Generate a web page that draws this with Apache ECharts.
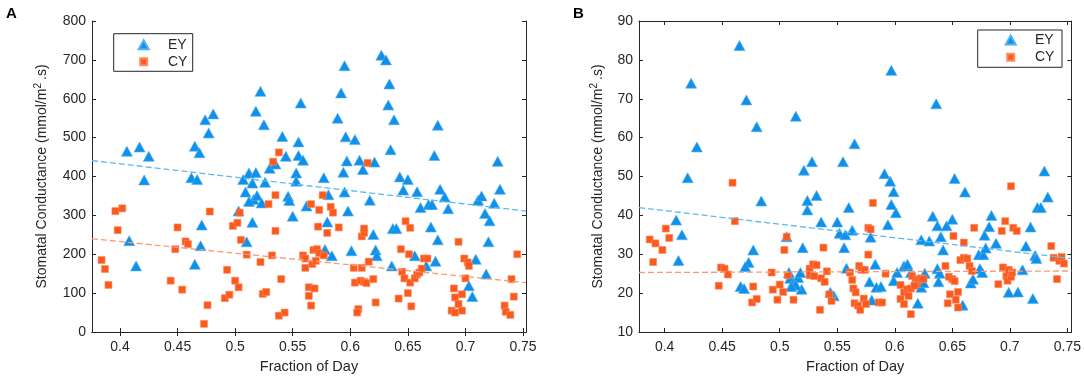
<!DOCTYPE html>
<html>
<head>
<meta charset="utf-8">
<title>Stomatal Conductance</title>
<script src="https://cdn.jsdelivr.net/npm/echarts@6/dist/echarts.min.js"></script>
<style>
	html, body { margin: 0; padding: 0; background: #fff; }
	#main { width: 1084px; height: 379px; }
</style>
</head>
<body>
<div id="main"></div>
<script>
// ---- data ----
var xTicks = [0.4, 0.45, 0.5, 0.55, 0.6, 0.65, 0.7, 0.75];

// panel A
var eyA_x = [0.406,0.417,0.425,0.421,0.408,0.414,0.465,0.469,0.462,0.467,0.474,0.477,0.481,0.471,0.470,0.465,
	0.503,0.507,0.509,0.510,0.515,0.512,0.515,0.518,0.516,0.512,0.519,0.518,0.522,0.525,0.526,0.530,0.535,0.523,
	0.541,0.544,0.546,0.547,0.550,0.555,0.557,0.555,0.559,0.553,0.553,0.562,0.577,0.580,0.581,0.578,0.584,
	0.589,0.592,0.595,0.596,0.604,0.597,0.594,0.595,0.598,0.601,0.608,0.611,0.617,0.621,0.620,0.622,0.623,
	0.627,0.631,0.634,0.633,0.638,0.635,0.636,0.643,0.646,0.650,0.637,0.640,0.658,0.661,0.668,0.671,0.656,
	0.666,0.670,0.676,0.673,0.678,0.682,0.685,0.676,0.674,0.709,0.703,0.706,0.711,0.714,0.717,0.720,0.718,
	0.721,0.725,0.728,0.730];
var eyA_y = [465,476,452,391,235,170,478,461,397,392,546,512,561,275,222,174,
	311,392,360,232,282,409,383,410,341,336,351,568,619,533,385,421,432,332,
	503,452,349,338,298,489,589,454,442,409,388,324,397,283,353,212,196,
	550,615,685,502,495,440,411,360,311,209,442,418,339,437,251,211,196,
	712,700,638,584,546,469,170,399,365,392,266,266,361,320,328,328,196,
	170,270,532,454,367,347,317,237,182,187,119,91,339,350,305,232,149,
	286,331,439,367];
var cyA_x = [0.384,0.387,0.390,0.396,0.402,0.398,0.444,0.448,0.450,0.454,0.457,0.459,0.473,0.476,0.478,
	0.491,0.495,0.493,0.500,0.503,0.498,0.502,0.504,0.505,0.510,0.522,0.524,0.527,0.529,0.532,0.533,0.535,
	0.535,0.538,0.538,0.543,0.540,0.559,0.561,0.561,0.566,0.564,0.564,0.569,0.566,0.568,0.571,0.567,0.570,
	0.573,0.577,0.576,0.573,0.572,0.580,0.583,0.585,0.590,0.603,0.604,0.607,0.606,0.609,0.610,0.612,0.614,
	0.610,0.612,0.612,0.615,0.616,0.620,0.622,0.642,0.644,0.645,0.647,0.648,0.650,0.651,0.652,0.652,0.653,
	0.656,0.658,0.660,0.662,0.664,0.667,0.690,0.688,0.691,0.691,0.694,0.697,0.697,0.694,0.699,0.700,0.702,
	0.703,0.740,0.742,0.745,0.734,0.735,0.739];
var cyA_y = [185,162,121,311,318,262,132,213,269,109,233,226,21,69,310,
	87,96,160,132,115,273,281,307,237,199,180,98,103,329,197,438,352,
	260,462,42,50,136,197,165,189,329,115,93,112,68,211,213,175,183,
	203,197,352,314,271,255,322,307,269,165,127,59,50,132,165,129,126,
	246,255,266,435,181,136,76,86,213,155,138,285,100,200,268,127,66,
	138,148,153,163,189,189,112,55,50,89,72,97,55,232,189,138,179,
	170,136,91,200,68,52,44];
// least-squares lines, value at the left and right axis limits
var fitA_x = [0.3757, 0.7526];
var fitA_ey = [441, 311];
var fitA_cy = [240, 127];

// panel B
var eyB_x = [0.465,0.423,0.420,0.428,0.410,0.415,0.412,0.471,0.480,0.484,0.477,0.473,0.470,0.466,0.469,
	0.514,0.521,0.528,0.524,0.524,0.532,0.536,0.520,0.506,0.508,0.509,0.512,0.516,0.518,0.519,0.514,0.510,
	0.550,0.555,0.552,0.557,0.563,0.556,0.560,0.565,0.558,0.547,0.544,0.591,0.596,0.597,0.599,0.597,0.601,
	0.594,0.579,0.583,0.578,0.584,0.588,0.580,0.599,0.602,0.608,0.611,0.614,0.620,0.623,0.625,0.626,0.623,
	0.630,0.636,0.633,0.637,0.640,0.642,0.645,0.650,0.652,0.661,0.637,0.639,0.638,0.659,0.666,0.668,0.673,
	0.677,0.674,0.676,0.678,0.679,0.682,0.684,0.688,0.699,0.707,0.711,0.714,0.718,0.720,0.722,0.723,0.724,
	0.727,0.730,0.733];
var eyB_y = [83.7,74.0,49.7,57.6,38.8,35.0,28.4,69.7,62.8,43.7,31.1,27.9,26.8,21.7,21.2,
	65.5,51.6,53.8,43.8,41.4,45.1,38.3,31.7,34.5,25.3,23.8,22.7,24.0,25.3,21.0,22.1,21.7,
	38.3,53.8,35.4,35.0,36.2,31.7,42.0,58.4,26.4,19.3,20.2,50.7,48.8,77.3,46.1,42.8,40.7,
	37.6,34.4,27.4,22.9,21.5,21.7,18.2,23.2,25.3,27.0,27.4,25.3,17.4,21.5,22.7,25.1,33.7,
	33.4,68.7,39.8,37.3,34.5,31.1,37.3,39.0,49.5,46.0,26.3,25.1,22.9,16.9,22.6,23.6,29.9,
	29.9,26.3,25.3,34.9,31.6,37.1,40.0,32.8,20.2,20.3,26.0,32.1,37.0,18.6,29.7,28.9,42.0,
	42.0,51.4,44.7];
var cyB_x = [0.387,0.392,0.390,0.398,0.401,0.404,0.459,0.461,0.449,0.452,0.455,0.447,0.477,0.476,0.480,
	0.493,0.494,0.498,0.500,0.503,0.504,0.506,0.507,0.512,0.526,0.529,0.532,0.526,0.530,0.538,0.536,0.539,
	0.541,0.535,0.543,0.545,0.561,0.563,0.564,0.566,0.565,0.568,0.570,0.569,0.571,0.573,0.575,0.574,0.577,
	0.579,0.577,0.581,0.586,0.589,0.592,0.605,0.605,0.608,0.608,0.611,0.612,0.614,0.615,0.618,0.619,0.620,
	0.623,0.625,0.614,0.617,0.644,0.646,0.648,0.651,0.647,0.650,0.652,0.653,0.655,0.655,0.660,0.657,0.660,
	0.663,0.665,0.667,0.669,0.690,0.693,0.696,0.694,0.697,0.698,0.699,0.701,0.701,0.703,0.706,0.702,0.736,
	0.738,0.741,0.743,0.745,0.747];
var cyB_y = [33.8,32.8,28.0,31.1,36.6,34.2,48.4,38.5,26.6,26.3,24.8,21.9,21.7,17.6,18.5,
	25.3,20.9,18.3,22.2,20.3,31.1,34.5,24.6,18.3,26.3,27.4,27.2,24.6,24.4,31.7,23.8,22.9,
	25.6,15.7,19.7,18.0,25.3,23.4,21.2,20.2,17.4,16.8,15.7,27.0,26.0,18.6,17.2,26.0,36.8,
	36.4,29.9,43.2,17.6,17.6,25.0,22.1,18.5,17.2,20.2,21.0,19.3,14.6,24.4,23.6,22.3,23.2,
	23.8,23.6,21.2,21.9,27.0,17.4,19.7,34.7,24.2,23.6,23.1,18.3,20.3,16.3,33.0,28.5,29.1,
	28.9,27.0,25.7,36.8,22.3,36.0,38.5,26.6,24.4,23.2,26.0,47.5,24.2,36.8,36.0,25.3,32.1,
	29.1,23.6,28.3,29.3,27.6];
var fitB_x = [0.3777, 0.7535];
var fitB_ey = [42.0, 28.9];
var fitB_cy = [25.3, 25.7];

var yTicksA = { min: 0, max: 800, interval: 100 };
var yTicksB = { min: 10, max: 90, interval: 10 };

// ---- styles ----
var axisColor = '#262626';
var blue = '#1190ea';
var orange = '#fb5a1f';
var font = '"Liberation Sans", Arial, sans-serif';

function zip(xs, ys) {
	return xs.map(function (x, i) { return [x, ys[i]]; });
}

function xAxisPair(grid, lim, withName) {
	var bottom = {
		gridIndex: grid, type: 'value', position: 'bottom',
		min: lim[0], max: lim[1],
		name: withName ? 'Fraction of Day' : '',
		nameLocation: 'middle', nameGap: 27,
		nameTextStyle: { fontSize: 14.5, color: axisColor, fontFamily: font },
		axisLine: { show: true, lineStyle: { color: axisColor, width: 1 } },
		axisTick: { show: true, inside: true, length: 4, customValues: xTicks, lineStyle: { color: axisColor } },
		axisLabel: { show: true, customValues: xTicks, fontSize: 14, color: axisColor, fontFamily: font, margin: 8,
			formatter: function (v) { return String(+v.toFixed(2)); } },
		splitLine: { show: false }
	};
	var top = {
		gridIndex: grid, type: 'value', position: 'top',
		min: lim[0], max: lim[1],
		axisLine: { show: true, lineStyle: { color: axisColor, width: 1 } },
		axisTick: { show: true, inside: true, length: 4, customValues: xTicks, lineStyle: { color: axisColor } },
		axisLabel: { show: false },
		splitLine: { show: false }
	};
	return [bottom, top];
}

function yAxisPair(grid, t, gap) {
	var left = {
		gridIndex: grid, type: 'value', position: 'left',
		min: t.min, max: t.max, interval: t.interval,
		name: 'Stomatal Conductance (mmol/m{sup|2}.s)',
		nameLocation: 'middle', nameGap: gap,
		nameTextStyle: { fontSize: 14, color: axisColor, fontFamily: font,
			rich: { sup: { fontSize: 10, color: axisColor, fontFamily: font, verticalAlign: 'top', padding: [0, 3, 8, 0] } } },
		axisLine: { show: true, lineStyle: { color: axisColor, width: 1 } },
		axisTick: { show: true, inside: true, length: 4, lineStyle: { color: axisColor } },
		axisLabel: { fontSize: 14, color: axisColor, fontFamily: font, margin: 6 },
		splitLine: { show: false }
	};
	var right = {
		gridIndex: grid, type: 'value', position: 'right',
		min: t.min, max: t.max, interval: t.interval,
		axisLine: { show: true, lineStyle: { color: axisColor, width: 1 } },
		axisTick: { show: true, inside: true, length: 4, lineStyle: { color: axisColor } },
		axisLabel: { show: false },
		splitLine: { show: false }
	};
	return [left, right];
}

function scatter(name, xi, yi, data, symbol, size, color, border) {
	return {
		name: name, type: 'scatter', xAxisIndex: xi, yAxisIndex: yi,
		symbol: symbol, symbolSize: size, data: data, z: 2,
		itemStyle: { color: color, opacity: 1, borderColor: border, borderWidth: 0.6 },
		emphasis: { disabled: true }
	};
}

function fitLine(name, xi, yi, xs, ys, color) {
	return {
		name: name, type: 'line', xAxisIndex: xi, yAxisIndex: yi,
		data: zip(xs, ys), symbol: 'none', silent: true, z: 3,
		lineStyle: { color: color, width: 1.3, type: [6, 3] }
	};
}

function legendItem(name, left, top, w, h, pad) {
	return {
		data: [name], left: left, top: top, orient: 'vertical',
		itemWidth: w, itemHeight: h, padding: 0, selectedMode: false, z: 5,
		textStyle: { fontSize: 14, color: axisColor, fontFamily: font, lineHeight: 14, padding: [0, 0, 0, pad] }
	};
}

var xa = xAxisPair(0, fitA_x, true);
var xb = xAxisPair(1, fitB_x, true);
var ya = yAxisPair(0, yTicksA, 41);
var yb = yAxisPair(1, yTicksB, 32);

var myChart = echarts.init(document.getElementById('main'), null, { renderer: 'canvas' });
myChart.setOption({
	animation: false,
	textStyle: { fontFamily: font },
	grid: [
		{ left: 92, top: 21, width: 434, height: 312 },
		{ left: 639, top: 21, width: 434, height: 312 }
	],
	xAxis: [xa[0], xa[1], xb[0], xb[1]],
	yAxis: [ya[0], ya[1], yb[0], yb[1]],
	legend: [
		legendItem('EY', 137.7, 37.7, 10, 9, 14.3),
		legendItem('CY', 139.2, 54.7, 7, 7, 15.8),
		legendItem('EY', 1004.7, 33, 10, 9, 14.3),
		legendItem('CY', 1006.2, 50.3, 7, 7, 15.8)
	],
	graphic: [
		{ type: 'rect', z: 4, shape: { x: 113.7, y: 33.7, width: 79, height: 37.6 },
			style: { fill: '#fff', stroke: axisColor, lineWidth: 1 } },
		{ type: 'rect', z: 4, shape: { x: 977.7, y: 30, width: 84.3, height: 37.3 },
			style: { fill: '#fff', stroke: axisColor, lineWidth: 1 } },
		{ type: 'text', left: 6, top: 6, style: { text: 'A', fontSize: 15, fontWeight: 'bold', fill: '#000', fontFamily: font } },
		{ type: 'text', left: 573, top: 6, style: { text: 'B', fontSize: 15, fontWeight: 'bold', fill: '#000', fontFamily: font } }
	],
	series: [
		scatter('EY', 0, 0, zip(eyA_x, eyA_y), 'triangle', [11, 10], blue, '#4fb0f2'),
		scatter('CY', 0, 0, zip(cyA_x, cyA_y), 'rect', 7, orange, '#ff8c60'),
		fitLine('EY fit A', 0, 0, fitA_x, fitA_ey, '#5cb9f3'),
		fitLine('CY fit A', 0, 0, fitA_x, fitA_cy, '#f99b78'),
		scatter('EY', 2, 2, zip(eyB_x, eyB_y), 'triangle', [11, 10], blue, '#4fb0f2'),
		scatter('CY', 2, 2, zip(cyB_x, cyB_y), 'rect', 7, orange, '#ff8c60'),
		fitLine('EY fit B', 2, 2, fitB_x, fitB_ey, '#5cb9f3'),
		fitLine('CY fit B', 2, 2, fitB_x, fitB_cy, '#f99b78')
	]
});
</script>
</body>
</html>
